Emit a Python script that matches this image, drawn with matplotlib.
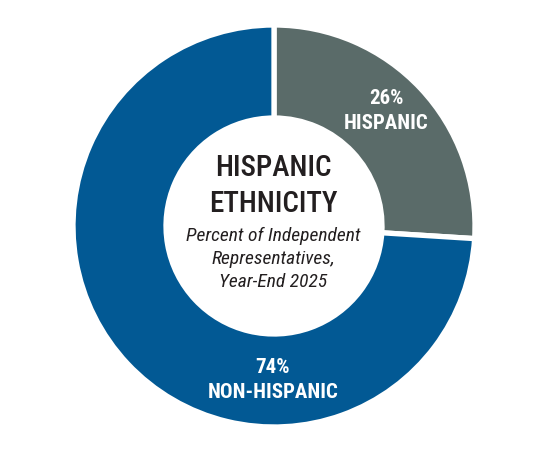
import matplotlib
matplotlib.use('Agg')
import matplotlib.pyplot as plt

# Данные
labels = ['HISPANIC', 'NON-HISPANIC']
shares = [26, 74]
colors = ['#5a6b69', '#025994']

title_lines = ['HISPANIC', 'ETHNICITY']
subtitle_lines = ['Percent of Independent', 'Representatives,', 'Year-End 2025']

plt.rcParams['font.family'] = ['Roboto Condensed', 'DejaVu Sans']
plt.rcParams['font.stretch'] = 'condensed'

W, H = 550, 454
fig = plt.figure(figsize=(W / 100, H / 100), dpi=100)
ax = fig.add_axes([0, 0, 1, 1])

cx, cy = 274, H - 226
R = 201
ring = 93

ax.pie(shares, colors=colors, startangle=90, counterclock=False,
       center=(cx, cy), radius=R, frame=True,
       wedgeprops=dict(width=ring, edgecolor='white', linewidth=3.8))
ax.set_xlim(0, W)
ax.set_ylim(0, H)
ax.set_aspect('equal')
ax.axis('off')

# Подписи сегментов
ax.text(386, H - 111, f'{shares[0]}%\n{labels[0]}', ha='center', va='center',
        color='white', fontsize=15, fontweight='bold', linespacing=1.45)
ax.text(273, H - 380, f'{shares[1]}%\n{labels[1]}', ha='center', va='center',
        color='white', fontsize=15, fontweight='bold', linespacing=1.45)

# Текст в центре
ax.text(273, H - 186, '\n'.join(title_lines), ha='center', va='center',
        color='#231f20', fontsize=21, fontweight='medium', linespacing=1.4)
ax.text(273, H - 259, '\n'.join(subtitle_lines), ha='center', va='center',
        color='#231f20', fontsize=14, style='italic', linespacing=1.33)

fig.savefig('out.png', dpi=100)
